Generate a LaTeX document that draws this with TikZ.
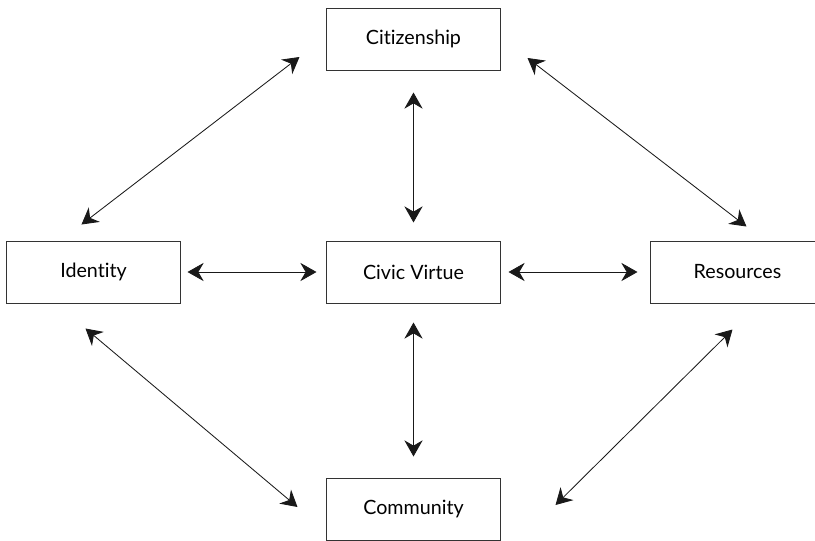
\documentclass[tikz,border=0pt]{standalone}
\usepackage{fontspec}
\setmainfont{Lato}[Ligatures={NoCommon,NoRequired,NoContextual}]
\usepackage{tikz}
\usetikzlibrary{arrows.meta}
\usetikzlibrary{positioning}

\begin{document}
\begin{tikzpicture}[
    x=0.025cm, y=-0.025cm,
    every node/.style={rectangle, draw=black!80, line width=0.7pt,
      minimum width=4.325cm, minimum height=1.55cm, inner sep=0pt,
      font=\fontsize{14}{16}\selectfont},
    link/.style={{Stealth[length=11.5pt, width=13pt, inset=3.8pt]}-{Stealth[length=11.5pt, width=13pt, inset=3.8pt]},
      line width=0.6pt, draw=black!90},
  ]

  \useasboundingbox (0,0) rectangle (815,540);

  \node (citiz) at (413.5, 39)  {Citizenship};
  \node (ident) at (93.5, 272)  {Identity};
  \node (civic) at (413.5, 272) {Civic Virtue};
  \node (resou) at (737.5, 272) {Resources};
  \node (commu) at (413.5, 509) {Community};

  % straight links
  \draw[link, shorten <=22pt*0.7113, shorten >=18pt*0.7113] (citiz) -- (civic);
  \draw[link, shorten <=19pt*0.7113, shorten >=21pt*0.7113] (civic) -- (commu);
  \draw[link, shorten <=7pt*0.7113, shorten >=10pt*0.7113] (ident) -- (civic);
  \draw[link, shorten <=8pt*0.7113, shorten >=13pt*0.7113] (civic) -- (resou);

  % diagonal links
  \draw[link] ([shift={(75,-16)}]ident.north west) -- ([shift={(-27,18)}]citiz.west);
  \draw[link] ([shift={(27,19)}]citiz.east) -- ([shift={(96,-14)}]resou.north west);
  \draw[link] ([shift={(79,25)}]ident.south west) -- ([shift={(-29,-2)}]commu.west);
  \draw[link] ([shift={(82,26)}]resou.south west) -- ([shift={(55,-4)}]commu.east);

\end{tikzpicture}
\end{document}
